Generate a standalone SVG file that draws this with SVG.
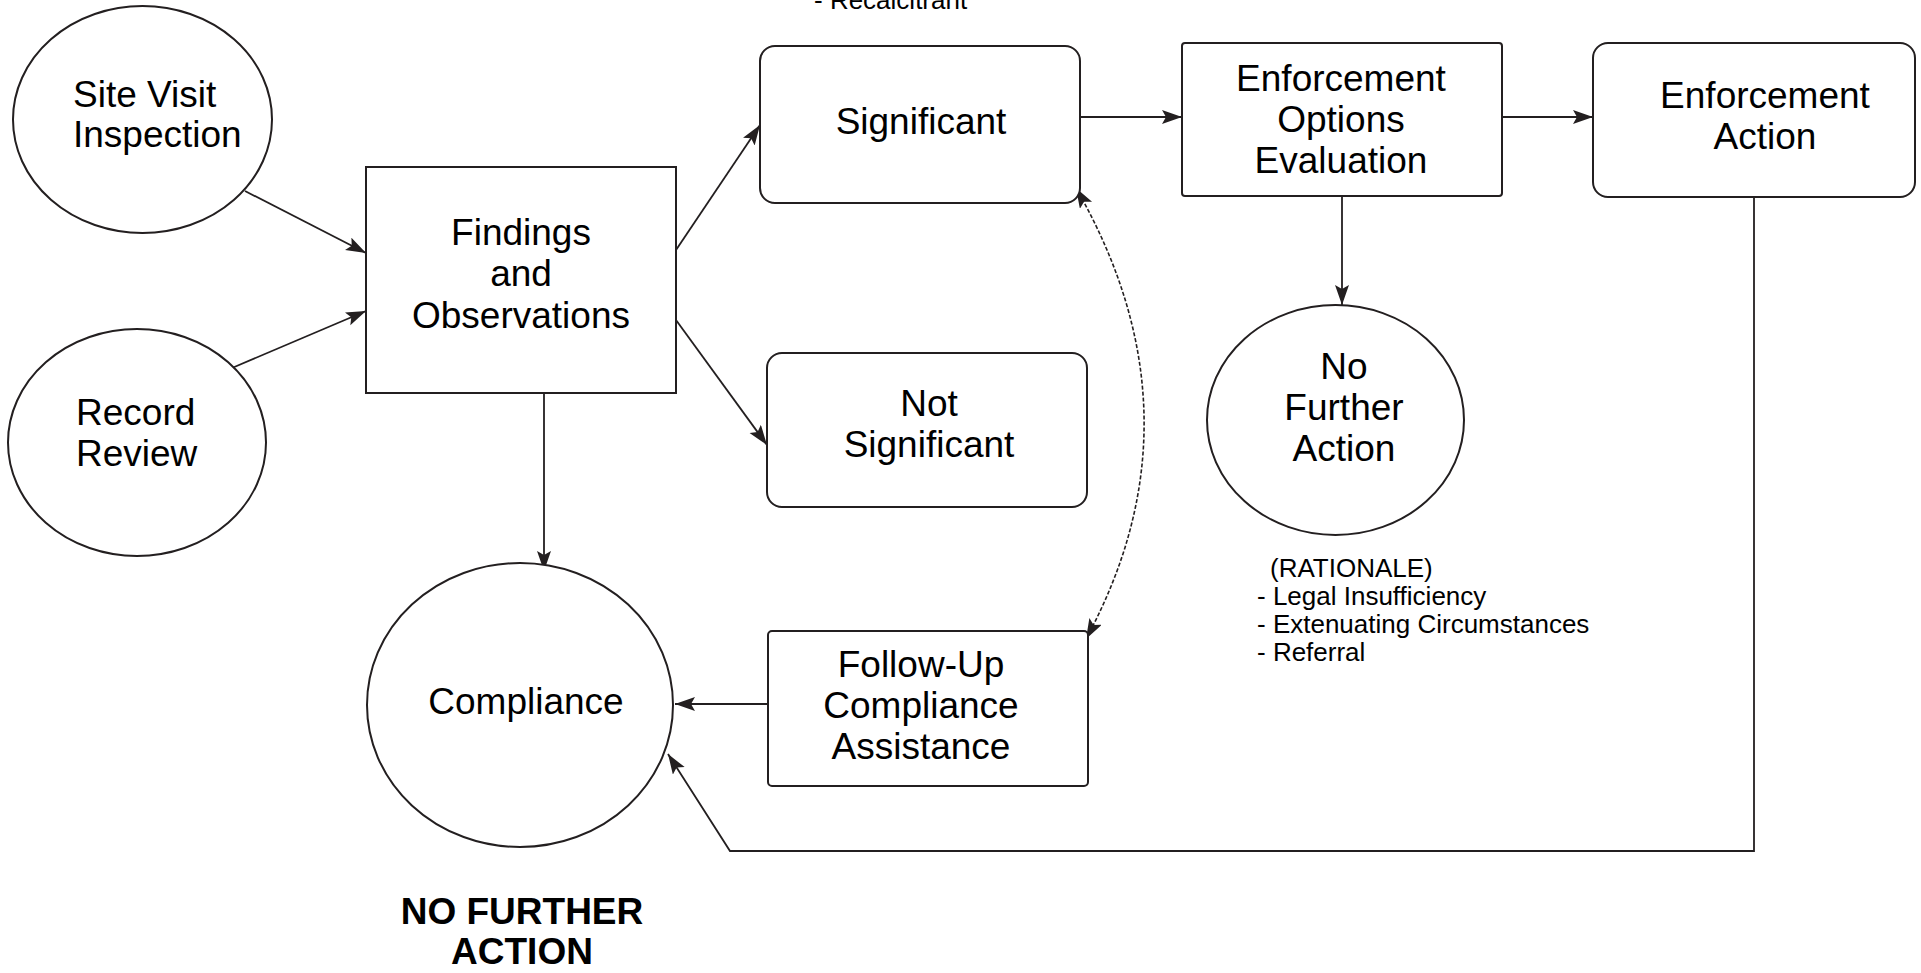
<svg xmlns="http://www.w3.org/2000/svg" width="1921" height="973" viewBox="0 0 1921 973">
  <style>
    .shape { fill: #ffffff; stroke: #231f20; stroke-width: 2; }
    .lbl { font-family: "Liberation Sans", Arial, sans-serif; font-size: 37px; fill: #000000; text-anchor: middle; }
    .lft { text-anchor: start; }
    .note { font-family: "Liberation Sans", Arial, sans-serif; font-size: 26px; fill: #000000; }
    .bold { font-weight: bold; }
    .edge { fill: none; stroke: #231f20; stroke-width: 1.8; }
    .dash { stroke-dasharray: 4 2; stroke-width: 1.6; }
  </style>
  <defs>
    <marker id="arrow" markerUnits="userSpaceOnUse" markerWidth="22" markerHeight="16" refX="20" refY="7" orient="auto-start-reverse">
      <path d="M0,0 L20,7 L0,14 L4,7 z" fill="#231f20"/>
    </marker>
  </defs>

  <rect x="0" y="0" width="1921" height="973" fill="#ffffff"/>

  <!-- connectors -->
  <g id="connectors">
    <line class="edge" x1="245" y1="191" x2="366" y2="253" marker-end="url(#arrow)"/>
    <line class="edge" x1="232" y1="368" x2="366" y2="311" marker-end="url(#arrow)"/>
    <line class="edge" x1="676" y1="250" x2="760" y2="125" marker-end="url(#arrow)"/>
    <line class="edge" x1="676" y1="320" x2="767" y2="445" marker-end="url(#arrow)"/>
    <line class="edge" x1="544" y1="393" x2="544" y2="571" marker-end="url(#arrow)"/>
    <line class="edge" x1="1080" y1="117" x2="1182" y2="117" marker-end="url(#arrow)"/>
    <line class="edge" x1="1502" y1="117" x2="1593" y2="117" marker-end="url(#arrow)"/>
    <line class="edge" x1="1342" y1="196" x2="1342" y2="305" marker-end="url(#arrow)"/>
    <line class="edge" x1="767" y1="704" x2="675" y2="704" marker-end="url(#arrow)"/>
    <polyline class="edge" points="1754,197 1754,851 730,851 668,754" marker-end="url(#arrow)"/>
    <path class="edge dash" d="M1076,188 Q1207,416 1086,639" marker-start="url(#arrow)" marker-end="url(#arrow)"/>
  </g>

  <!-- nodes -->
  <g id="site-visit">
    <ellipse class="shape" cx="142.5" cy="119.5" rx="129.5" ry="113.5"/>
    <text class="lbl lft" x="73" y="107">Site Visit</text>
    <text class="lbl lft" x="73" y="147">Inspection</text>
  </g>

  <g id="record-review">
    <ellipse class="shape" cx="137" cy="442.5" rx="129" ry="113.5"/>
    <text class="lbl lft" x="76" y="425">Record</text>
    <text class="lbl lft" x="76" y="466">Review</text>
  </g>

  <g id="findings">
    <rect class="shape" x="366" y="167" width="310" height="226"/>
    <text class="lbl" x="521" y="245">Findings</text>
    <text class="lbl" x="521" y="286">and</text>
    <text class="lbl" x="521" y="328">Observations</text>
  </g>

  <g id="significant">
    <rect class="shape" x="760" y="46" width="320" height="157" rx="15" ry="15"/>
    <text class="lbl" x="921" y="134">Significant</text>
  </g>

  <g id="not-significant">
    <rect class="shape" x="767" y="353" width="320" height="154" rx="15" ry="15"/>
    <text class="lbl" x="929" y="416">Not</text>
    <text class="lbl" x="929" y="457">Significant</text>
  </g>

  <g id="options-evaluation">
    <rect class="shape" x="1182" y="43" width="320" height="153" rx="3" ry="3"/>
    <text class="lbl" x="1341" y="91">Enforcement</text>
    <text class="lbl" x="1341" y="132">Options</text>
    <text class="lbl" x="1341" y="173">Evaluation</text>
  </g>

  <g id="enforcement-action">
    <rect class="shape" x="1593" y="43" width="322" height="154" rx="15" ry="15"/>
    <text class="lbl" x="1765" y="108">Enforcement</text>
    <text class="lbl" x="1765" y="149">Action</text>
  </g>

  <g id="no-further-action">
    <ellipse class="shape" cx="1335.5" cy="420" rx="128.5" ry="115"/>
    <text class="lbl" x="1344" y="379">No</text>
    <text class="lbl" x="1344" y="420">Further</text>
    <text class="lbl" x="1344" y="461">Action</text>
  </g>

  <g id="compliance">
    <ellipse class="shape" cx="520" cy="705" rx="153" ry="142"/>
    <text class="lbl" x="526" y="714">Compliance</text>
  </g>

  <g id="follow-up">
    <rect class="shape" x="768" y="631" width="320" height="155" rx="4" ry="4"/>
    <text class="lbl" x="921" y="677">Follow-Up</text>
    <text class="lbl" x="921" y="718">Compliance</text>
    <text class="lbl" x="921" y="759">Assistance</text>
  </g>

  <!-- notes -->
  <g id="notes">
    <text class="note" x="814" y="9">- Recalcitrant</text>
    <text class="note" x="1270" y="577">(RATIONALE)</text>
    <text class="note" x="1257" y="605">- Legal Insufficiency</text>
    <text class="note" x="1257" y="633">- Extenuating Circumstances</text>
    <text class="note" x="1257" y="661">- Referral</text>
    <text class="lbl bold" x="522" y="924">NO FURTHER</text>
    <text class="lbl bold" x="522" y="964">ACTION</text>
  </g>
</svg>
